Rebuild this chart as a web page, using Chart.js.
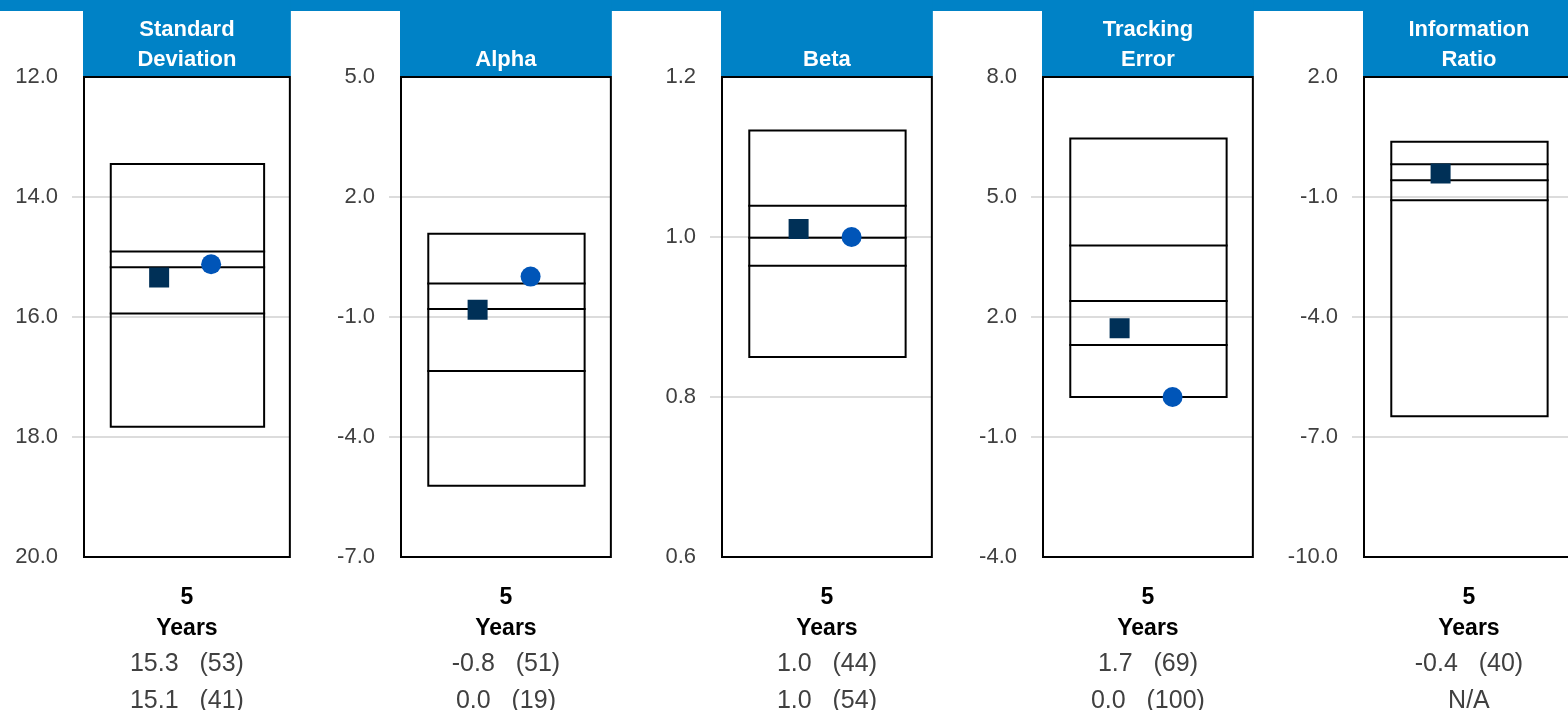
<!DOCTYPE html>
<html>
<head>
<meta charset="utf-8">
<script src="https://cdn.jsdelivr.net/npm/chart.js@4.4.1/dist/chart.umd.min.js"></script>
<style>
  html, body { margin: 0; padding: 0; width: 1568px; height: 710px; overflow: hidden; background: #fff; }
  #banner { position: absolute; left: 0; top: 0; width: 1568px; height: 11px; background: #0082C6; }
  .panel { position: absolute; top: 0; }
</style>
</head>
<body>
<div id="banner"></div>
<div id="panels"></div>
<script>
// ===== peer group risk statistics (5 years) =====

const METRICS      = ['Standard Deviation', 'Alpha', 'Beta', 'Tracking Error', 'Information Ratio'];
const HEADER_LINES = [['Standard', 'Deviation'], ['Alpha'], ['Beta'], ['Tracking', 'Error'], ['Information', 'Ratio']];
const PERIOD_LABEL = ['5', 'Years'];

// y axis range of each panel
const Y_MIN     = [12, -7, 0.6, -4, -10];
const Y_MAX     = [20, 5, 1.2, 8, 2];
const Y_STEP    = [2, 3, 0.2, 3, 3];
const Y_REVERSE = [true, false, false, false, false];

// peer group box: top edge, upper line, median, lower line, bottom edge
const P05 = [13.45, 1.08, 1.133, 6.46, 0.38];
const P25 = [14.91, -0.16, 1.039, 3.79, -0.18];
const P50 = [15.17, -0.80, 0.999, 2.40, -0.58];
const P75 = [15.94, -2.35, 0.964, 1.30, -1.08];
const P95 = [17.83, -5.22, 0.850, 0.00, -6.48];

// fund (square) and benchmark (circle) with peer rank
const FUND_VALUES  = [15.34, -0.82, 1.01, 1.72, -0.41];
const FUND_RANKS   = [53, 51, 44, 69, 40];
const BENCH_VALUES = [15.12, 0.01, 1.00, 0.00, null];
const BENCH_RANKS  = [41, 19, 54, 100, null];

// layout
const PLOT_LEFT  = [84, 401, 722, 1043, 1364];
const PLOT_WIDTH = [206, 210, 210, 210, 210];
const AXIS_WIDTH = 84;
const PLOT_TOP = 77, PLOT_BOTTOM = 557, CANVAS_H = 720;
const EXTRA_RIGHT = 14;   // chart.js keeps ~12px at the right edge
const BOX_LEFT = -0.74, BOX_RIGHT = 0.75;
const FUND_X = -0.27, BENCH_X = 0.235;

const BLUE = '#0082C6';
const FONT = "'Liberation Sans', Arial, sans-serif";

// -----------------------------------------------
// blue header above each plot + black frame
// -----------------------------------------------
const panelFrame = {
  id: 'panelFrame',
  beforeDatasetsDraw: function(chart) {
    const a = chart.chartArea;
    const ctx = chart.ctx;
    ctx.save();
    ctx.strokeStyle = '#000';
    ctx.lineWidth = 2;
    ctx.strokeRect(a.left, a.top, a.right - a.left, a.bottom - a.top);
    ctx.restore();
  },
  afterDraw: function(chart) {
    const a = chart.chartArea;
    const ctx = chart.ctx;
    const lines = chart.options.plugins.panelFrame.lines;
    ctx.save();
    ctx.fillStyle = BLUE;
    ctx.fillRect(a.left - 1, 0, a.right - a.left + 2, a.top - 1);
    ctx.fillStyle = '#fff';
    ctx.font = 'bold 22px ' + FONT;
    ctx.textAlign = 'center';
    ctx.textBaseline = 'middle';
    lines.forEach(function(txt, k) {
      ctx.fillText(txt, (a.left + a.right) / 2, 60 - (lines.length - 1 - k) * 30);
    });
    ctx.restore();
  }
};

function boxOutline(i) {
  return [
    { x: BOX_LEFT,  y: P05[i] },
    { x: BOX_RIGHT, y: P05[i] },
    { x: BOX_RIGHT, y: P95[i] },
    { x: BOX_LEFT,  y: P95[i] },
    { x: BOX_LEFT,  y: P05[i] }
  ];
}

function hLine(v) {
  return [{ x: BOX_LEFT, y: v }, { x: BOX_RIGHT, y: v }];
}

function lineDataset(data) {
  return {
    type: 'line',
    data: data,
    borderColor: '#000',
    borderWidth: 2,
    pointRadius: 0,
    pointHoverRadius: 0,
    fill: false,
    tension: 0,
    borderCapStyle: 'square',
    borderJoinStyle: 'miter',
    order: 1
  };
}

function valueLine(v, rank) {
  if (v === null) return 'N/A';
  return v.toFixed(1) + '   (' + rank + ')';
}

// -----------------------------------------------
// one chart per statistic
// -----------------------------------------------
function renderPanel(i) {
  const wrap = document.createElement('div');
  wrap.className = 'panel';
  wrap.style.left = (PLOT_LEFT[i] - AXIS_WIDTH) + 'px';
  const canvas = document.createElement('canvas');
  canvas.width  = AXIS_WIDTH + PLOT_WIDTH[i] + EXTRA_RIGHT;
  canvas.height = CANVAS_H;
  wrap.appendChild(canvas);
  document.getElementById('panels').appendChild(wrap);

  const yMin = Y_MIN[i], yMax = Y_MAX[i];
  const benchData = BENCH_VALUES[i] === null ? [] : [{ x: BENCH_X, y: BENCH_VALUES[i] }];

  new Chart(canvas.getContext('2d'), {
    type: 'scatter',
    data: {
      datasets: [
        {
          label: 'Fund',
          data: [{ x: FUND_X, y: FUND_VALUES[i] }],
          pointStyle: 'rect',
          pointRadius: 14.14,
          backgroundColor: '#003057',
          borderWidth: 0,
          order: 0
        },
        {
          label: 'Benchmark',
          data: benchData,
          pointStyle: 'circle',
          pointRadius: 10,
          backgroundColor: '#0055B8',
          borderWidth: 0,
          order: 0
        },
        lineDataset(boxOutline(i)),
        lineDataset(hLine(P25[i])),
        lineDataset(hLine(P50[i])),
        lineDataset(hLine(P75[i]))
      ]
    },
    options: {
      animation: false,
      responsive: false,
      events: [],
      layout: { padding: { top: PLOT_TOP, right: 2, left: 0, bottom: 0 } },
      plugins: {
        legend : { display: false },
        tooltip: { enabled: false },
        panelFrame: { lines: HEADER_LINES[i] }
      },
      scales: {
        x: {
          type: 'linear',
          min: -1,
          max: 1,
          grid  : { display: false, drawTicks: false },
          border: { display: false },
          afterBuildTicks: function(scale) { scale.ticks = [{ value: 0 }]; },
          afterFit: function(scale) { scale.height = CANVAS_H - PLOT_BOTTOM; },
          ticks: {
            callback: function() { return PERIOD_LABEL; },
            color: '#000',
            font: { family: FONT, size: 23, weight: 'bold', lineHeight: 1.35 },
            padding: 25,
            maxRotation: 0,
            autoSkip: false
          },
          title: {
            display: true,
            text: [valueLine(FUND_VALUES[i], FUND_RANKS[i]), valueLine(BENCH_VALUES[i], BENCH_RANKS[i])],
            color: '#404040',
            font: { family: FONT, size: 25, lineHeight: 1.46 },
            padding: { top: 0, bottom: 1 }
          }
        },
        y: {
          min: yMin,
          max: yMax,
          reverse: Y_REVERSE[i],
          afterFit: function(scale) { scale.width = AXIS_WIDTH; },
          ticks: {
            stepSize: Y_STEP[i],
            callback: function(v) { return Number(v).toFixed(1); },
            color: '#404040',
            font: { family: FONT, size: 22 },
            padding: 14
          },
          grid: {
            color: function(ctx) {
              const v = ctx.tick ? ctx.tick.value : 0;
              if (Math.abs(v - yMin) < 1e-9 || Math.abs(v - yMax) < 1e-9) return 'rgba(0,0,0,0)';
              return '#dcdcdc';
            },
            lineWidth: 2,
            tickLength: 12,
            drawTicks: true
          },
          border: { display: false }
        }
      }
    },
    plugins: [panelFrame]
  });
}

METRICS.forEach(function(name, i) { renderPanel(i); });
</script>
</body>
</html>
